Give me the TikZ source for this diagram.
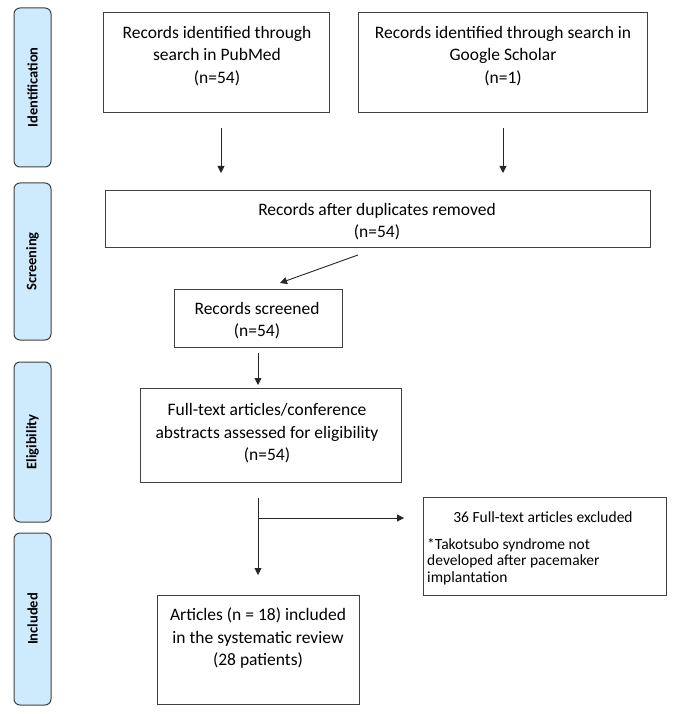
\documentclass[tikz,border=0pt]{standalone}
\usepackage{fontspec}
\setmainfont{Carlito}
\usetikzlibrary{arrows.meta,calc}
\definecolor{sidefill}{RGB}{206,234,253}
\definecolor{linegray}{RGB}{64,64,64}
\begin{document}
\begin{tikzpicture}[x=1pt,y=-1pt,
  box/.style={draw=linegray,line width=1pt,inner sep=0pt},
  side/.style={draw=linegray,line width=1pt,fill=sidefill,rounded corners=6pt,minimum width=37pt,inner sep=0pt},
  sidetxt/.style={rotate=90,inner sep=0pt,font=\bfseries\fontsize{14.5}{16}\selectfont},
  txt/.style={align=center,inner sep=0pt,font=\fontsize{17.5}{22.5}\selectfont},
  smalltxt/.style={inner sep=0pt,font=\fontsize{15.5}{16.3}\selectfont},
  arr/.style={draw=black!85,line width=0.9pt,-{Triangle[length=7pt,width=7pt]}}]
\useasboundingbox (0,0) rectangle (676,714);

% side phase labels
\node[side,minimum height=159pt] (sid) at (32.5,87.5) {};
\node[sidetxt] (sidt) at (sid.center) {Identification};
\node[side,minimum height=157pt] (sscr) at (32.5,261.5) {};
\node[sidetxt] (sscrt) at (sscr.center) {Screening};
\node[side,minimum height=160pt] (selg) at (32.5,442) {};
\node[sidetxt] (selgt) at (selg.center) {Eligibility};
\node[side,minimum height=172pt] (sinc) at (32.5,619) {};
\node[sidetxt] (sinct) at (sinc.center) {Included};

% boxes
\node[box,minimum width=226pt,minimum height=100pt] (pub) at (216,63) {};
\node[box,minimum width=289pt,minimum height=100pt] (gs) at (502.5,63) {};
\node[box,minimum width=545pt,minimum height=57pt] (dup) at (377.5,218.5) {};
\node[box,minimum width=168pt,minimum height=58pt] (scr) at (258,318) {};
\node[box,minimum width=261pt,minimum height=94pt] (full) at (270.5,435) {};
\node[box,minimum width=243pt,minimum height=98pt] (excl) at (544.5,546) {};
\node[box,minimum width=202pt,minimum height=109pt] (art) at (258,649.5) {};

% texts
\node[txt] (pubt) at (217,56) {Records identified through\\search in PubMed\\(n=54)};
\node[txt] (gst) at (503,56) {Records identified through search in\\Google Scholar\\(n=1)};
\node[txt] (dupt) at (377,221.5) {Records after duplicates removed\\(n=54)};
\node[txt] (scrt) at (257,320.5) {Records screened\\(n=54)};
\node[txt] (fullt) at (267,433.5) {Full-text articles/conference\\abstracts assessed for eligibility\\(n=54)};
\node[smalltxt] (exclt) at (543,517) {36 Full-text articles excluded};
\node[smalltxt,align=left,anchor=west] (excld) at (427,561.5) {*Takotsubo syndrome not\\developed after pacemaker\\implantation};
\node[txt] (artt) at (258,638.5) {Articles (n = 18) included\\in the systematic review\\(28 patients)};

% arrow end points
\coordinate (a1s) at (221,128); \coordinate (a1e) at (221,173);
\coordinate (a2s) at (503,128); \coordinate (a2e) at (503,173);
\coordinate (a3s) at (358,255); \coordinate (a3e) at (280,283);
\coordinate (a4s) at (258,353); \coordinate (a4e) at (258,385);
\coordinate (a5s) at (258,498); \coordinate (a5e) at (258,575);
\coordinate (a6s) at (259,518); \coordinate (a6e) at (404,518);

\draw[arr] (a1s) -- (a1e);
\draw[arr] (a2s) -- (a2e);
\draw[arr] (a3s) -- (a3e);
\draw[arr] (a4s) -- (a4e);
\draw[arr] (a5s) -- (a5e);
\draw[arr] (a6s) -- (a6e);
\end{tikzpicture}
\end{document}
